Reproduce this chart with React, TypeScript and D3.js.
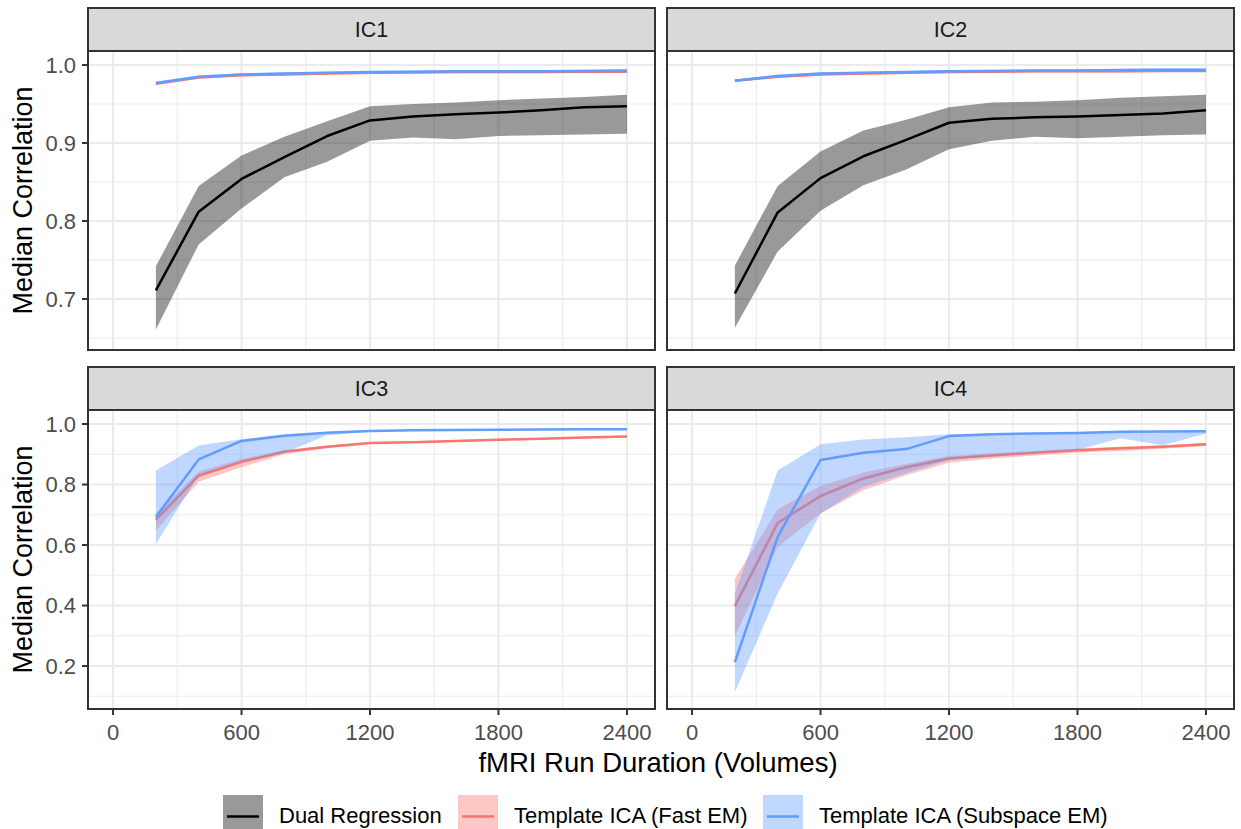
import React from "react";
import * as d3 from "d3";

// ---------- DATA ----------
const durations = [200, 400, 600, 800, 1000, 1200, 1400, 1600, 1800, 2000, 2200, 2400];
const xTicks = [0, 600, 1200, 1800, 2400];
const xMinorTicks = [300, 900, 1500, 2100];
const yTicksTop = [0.7, 0.8, 0.9, 1.0];
const yMinorTop = [0.65, 0.75, 0.85, 0.95];
const yTicksBottom = [0.2, 0.4, 0.6, 0.8, 1.0];
const yMinorBottom = [0.1, 0.3, 0.5, 0.7, 0.9];

const methods = ["Dual Regression", "Template ICA (Fast EM)", "Template ICA (Subspace EM)"];
const panelNames = ["IC1", "IC2", "IC3", "IC4"];

// IC1
const ic1DualMed = [0.711, 0.812, 0.854, 0.882, 0.909, 0.929, 0.934, 0.937, 0.939, 0.942, 0.946, 0.947];
const ic1DualLo = [0.661, 0.770, 0.816, 0.856, 0.876, 0.903, 0.907, 0.905, 0.909, 0.910, 0.911, 0.912];
const ic1DualHi = [0.742, 0.845, 0.884, 0.908, 0.928, 0.947, 0.950, 0.952, 0.955, 0.957, 0.959, 0.962];
const ic1FastMed = [0.976, 0.984, 0.987, 0.988, 0.989, 0.990, 0.9905, 0.991, 0.991, 0.991, 0.9915, 0.9915];
const ic1FastLo = [0.9745, 0.9825, 0.9855, 0.9865, 0.9875, 0.9885, 0.989, 0.9895, 0.9895, 0.9895, 0.99, 0.99];
const ic1FastHi = [0.9775, 0.9855, 0.9885, 0.9895, 0.9905, 0.9915, 0.992, 0.9925, 0.9925, 0.9925, 0.993, 0.993];
const ic1SubMed = [0.977, 0.985, 0.988, 0.989, 0.990, 0.991, 0.9915, 0.992, 0.992, 0.992, 0.9925, 0.993];
const ic1SubLo = [0.9755, 0.9835, 0.9865, 0.9875, 0.9885, 0.9895, 0.99, 0.9905, 0.9905, 0.9905, 0.991, 0.9915];
const ic1SubHi = [0.9785, 0.9865, 0.9895, 0.9905, 0.9915, 0.9925, 0.993, 0.9935, 0.9935, 0.9935, 0.994, 0.9945];

// IC2
const ic2DualMed = [0.707, 0.811, 0.855, 0.883, 0.904, 0.926, 0.931, 0.933, 0.934, 0.936, 0.938, 0.942];
const ic2DualLo = [0.663, 0.761, 0.813, 0.846, 0.866, 0.892, 0.903, 0.908, 0.906, 0.908, 0.910, 0.911];
const ic2DualHi = [0.743, 0.845, 0.889, 0.916, 0.930, 0.946, 0.952, 0.953, 0.955, 0.958, 0.960, 0.962];
const ic2FastMed = [0.980, 0.985, 0.988, 0.989, 0.990, 0.991, 0.9915, 0.992, 0.992, 0.992, 0.9925, 0.9925];
const ic2FastLo = [0.9785, 0.9835, 0.9865, 0.9875, 0.9885, 0.9895, 0.99, 0.9905, 0.9905, 0.9905, 0.991, 0.991];
const ic2FastHi = [0.9815, 0.9865, 0.9895, 0.9905, 0.9915, 0.9925, 0.993, 0.9935, 0.9935, 0.9935, 0.994, 0.994];
const ic2SubMed = [0.980, 0.986, 0.989, 0.990, 0.991, 0.992, 0.9925, 0.993, 0.993, 0.9935, 0.994, 0.994];
const ic2SubLo = [0.9785, 0.9845, 0.9875, 0.9885, 0.9895, 0.9905, 0.991, 0.9915, 0.9915, 0.992, 0.9925, 0.9925];
const ic2SubHi = [0.9815, 0.9875, 0.9905, 0.9915, 0.9925, 0.9935, 0.994, 0.9945, 0.9945, 0.995, 0.9955, 0.9955];

// IC3
const ic3FastMed = [0.684, 0.829, 0.875, 0.908, 0.925, 0.937, 0.940, 0.944, 0.948, 0.951, 0.955, 0.959];
const ic3FastLo = [0.647, 0.809, 0.857, 0.901, 0.920, 0.934, 0.937, 0.941, 0.945, 0.948, 0.952, 0.956];
const ic3FastHi = [0.704, 0.842, 0.884, 0.914, 0.929, 0.940, 0.943, 0.947, 0.951, 0.954, 0.958, 0.962];
const ic3SubMed = [0.693, 0.883, 0.944, 0.961, 0.971, 0.977, 0.979, 0.980, 0.981, 0.982, 0.983, 0.983];
const ic3SubLo = [0.603, 0.831, 0.877, 0.905, 0.963, 0.974, 0.977, 0.978, 0.979, 0.980, 0.981, 0.981];
const ic3SubHi = [0.846, 0.929, 0.950, 0.966, 0.974, 0.979, 0.981, 0.982, 0.983, 0.984, 0.985, 0.985];

// IC4
const ic4FastMed = [0.398, 0.673, 0.762, 0.820, 0.857, 0.886, 0.896, 0.905, 0.913, 0.920, 0.925, 0.933];
const ic4FastLo = [0.300, 0.594, 0.704, 0.781, 0.831, 0.872, 0.886, 0.896, 0.906, 0.911, 0.918, 0.927];
const ic4FastHi = [0.489, 0.718, 0.795, 0.840, 0.868, 0.894, 0.903, 0.911, 0.919, 0.925, 0.930, 0.938];
const ic4SubMed = [0.213, 0.627, 0.881, 0.905, 0.917, 0.960, 0.966, 0.969, 0.970, 0.974, 0.975, 0.976];
const ic4SubLo = [0.114, 0.440, 0.704, 0.793, 0.837, 0.881, 0.894, 0.905, 0.914, 0.953, 0.930, 0.969];
const ic4SubHi = [0.440, 0.846, 0.933, 0.949, 0.956, 0.966, 0.969, 0.971, 0.972, 0.975, 0.976, 0.978];

// ---------- STYLE ----------
const lineColors = ["#000000", "#F8766D", "#619CFF"];
const FONT = "'Liberation Sans', Arial, Helvetica, sans-serif";

type Series = { method: number; med: number[]; lo: number[]; hi: number[] };

const panelSeries: Series[][] = [
  [
    { method: 0, med: ic1DualMed, lo: ic1DualLo, hi: ic1DualHi },
    { method: 1, med: ic1FastMed, lo: ic1FastLo, hi: ic1FastHi },
    { method: 2, med: ic1SubMed, lo: ic1SubLo, hi: ic1SubHi },
  ],
  [
    { method: 0, med: ic2DualMed, lo: ic2DualLo, hi: ic2DualHi },
    { method: 1, med: ic2FastMed, lo: ic2FastLo, hi: ic2FastHi },
    { method: 2, med: ic2SubMed, lo: ic2SubLo, hi: ic2SubHi },
  ],
  [
    { method: 1, med: ic3FastMed, lo: ic3FastLo, hi: ic3FastHi },
    { method: 2, med: ic3SubMed, lo: ic3SubLo, hi: ic3SubHi },
  ],
  [
    { method: 1, med: ic4FastMed, lo: ic4FastLo, hi: ic4FastHi },
    { method: 2, med: ic4SubMed, lo: ic4SubLo, hi: ic4SubHi },
  ],
];

// layout
const W = 1241;
const H = 829;
const colX = [88, 667];
const panelW = 567;
const stripTop = [8, 367];
const stripH = 43;
const plotH = 299;
const xDomain: [number, number] = [-117, 2531];
const yDomains: [number, number][] = [
  [0.6346, 1.018],
  [0.058, 1.0463],
];
const legendKeyX = [223, 458, 763];

function Panel({ idx }: { idx: number }) {
  const row = Math.floor(idx / 2);
  const col = idx % 2;
  const x0 = colX[col];
  const sTop = stripTop[row];
  const pTop = sTop + stripH;
  const x = d3.scaleLinear().domain(xDomain).range([x0, x0 + panelW]);
  const y = d3.scaleLinear().domain(yDomains[row]).range([pTop + plotH, pTop]);
  const yMajor = row === 0 ? yTicksTop : yTicksBottom;
  const yMinor = row === 0 ? yMinorTop : yMinorBottom;
  const clipId = `clip-${idx}`;

  return (
    <g>
      <defs>
        <clipPath id={clipId}>
          <rect x={x0} y={pTop} width={panelW} height={plotH} />
        </clipPath>
      </defs>
      <rect x={x0} y={pTop} width={panelW} height={plotH} fill="#FFFFFF" />
      {yMinor.map((v) => (
        <line key={"ym" + v} x1={x0} x2={x0 + panelW} y1={y(v)} y2={y(v)} stroke="#EBEBEB" strokeWidth={1.1} />
      ))}
      {xMinorTicks.map((v) => (
        <line key={"xm" + v} x1={x(v)} x2={x(v)} y1={pTop} y2={pTop + plotH} stroke="#EBEBEB" strokeWidth={1.1} />
      ))}
      {yMajor.map((v) => (
        <line key={"yM" + v} x1={x0} x2={x0 + panelW} y1={y(v)} y2={y(v)} stroke="#EBEBEB" strokeWidth={2.1} />
      ))}
      {xTicks.map((v) => (
        <line key={"xM" + v} x1={x(v)} x2={x(v)} y1={pTop} y2={pTop + plotH} stroke="#EBEBEB" strokeWidth={2.1} />
      ))}
      <g clipPath={`url(#${clipId})`}>
        {panelSeries[idx].map((s, si) => {
          const pts = durations.map((d, i) => ({ d, m: s.med[i], lo: s.lo[i], hi: s.hi[i] }));
          const area = d3
            .area<(typeof pts)[number]>()
            .x((p) => x(p.d))
            .y0((p) => y(p.lo))
            .y1((p) => y(p.hi));
          const line = d3
            .line<(typeof pts)[number]>()
            .x((p) => x(p.d))
            .y((p) => y(p.m));
          return (
            <g key={si}>
              <path d={area(pts) || ""} fill={lineColors[s.method]} fillOpacity={0.4} stroke="none" />
              <path d={line(pts) || ""} fill="none" stroke={lineColors[s.method]} strokeWidth={2.5} strokeLinejoin="round" />
            </g>
          );
        })}
      </g>
      <rect x={x0} y={pTop} width={panelW} height={plotH} fill="none" stroke="#333333" strokeWidth={2} />
      <rect x={x0} y={sTop} width={panelW} height={stripH} fill="#D9D9D9" stroke="#333333" strokeWidth={2} />
      <text
        x={x0 + panelW / 2}
        y={sTop + stripH / 2 + 7.7}
        textAnchor="middle"
        fontFamily={FONT}
        fontSize={21.5}
        fill="#1A1A1A"
      >
        {panelNames[idx]}
      </text>
      {col === 0 &&
        yMajor.map((v) => (
          <g key={"yt" + v}>
            <line x1={x0 - 6} x2={x0} y1={y(v)} y2={y(v)} stroke="#333333" strokeWidth={2} />
            <text x={x0 - 12} y={y(v) + 7.8} textAnchor="end" fontFamily={FONT} fontSize={22} fill="#4D4D4D">
              {d3.format(".1f")(v)}
            </text>
          </g>
        ))}
      {row === 1 &&
        xTicks.map((v) => (
          <g key={"xt" + v}>
            <line x1={x(v)} x2={x(v)} y1={pTop + plotH} y2={pTop + plotH + 6} stroke="#333333" strokeWidth={2} />
            <text x={x(v)} y={pTop + plotH + 30.5} textAnchor="middle" fontFamily={FONT} fontSize={22} fill="#4D4D4D">
              {String(v)}
            </text>
          </g>
        ))}
    </g>
  );
}

export default function App() {
  return (
    <svg width={W} height={H} style={{ position: "absolute", left: 0, top: 0, background: "#FFFFFF" }}>
      <rect x={0} y={0} width={W} height={H} fill="#FFFFFF" />
      {[0, 1, 2, 3].map((i) => (
        <Panel key={i} idx={i} />
      ))}
      {[0, 1].map((r) => (
        <text
          key={"yt" + r}
          transform={`translate(32, ${stripTop[r] + stripH + plotH / 2}) rotate(-90)`}
          textAnchor="middle"
          fontFamily={FONT}
          fontSize={27}
          fill="#000000"
        >
          Median Correlation
        </text>
      ))}
      <text x={658} y={772} textAnchor="middle" fontFamily={FONT} fontSize={27.5} fill="#000000">
        fMRI Run Duration (Volumes)
      </text>
      {methods.map((m, i) => (
        <g key={m}>
          <rect x={legendKeyX[i]} y={795} width={40} height={43} fill={lineColors[i]} fillOpacity={0.4} />
          <line
            x1={legendKeyX[i] + 4}
            x2={legendKeyX[i] + 36}
            y1={816.5}
            y2={816.5}
            stroke={lineColors[i]}
            strokeWidth={2.5}
          />
          <text x={legendKeyX[i] + 56} y={823} fontFamily={FONT} fontSize={22} fill="#000000">
            {m}
          </text>
        </g>
      ))}
    </svg>
  );
}
